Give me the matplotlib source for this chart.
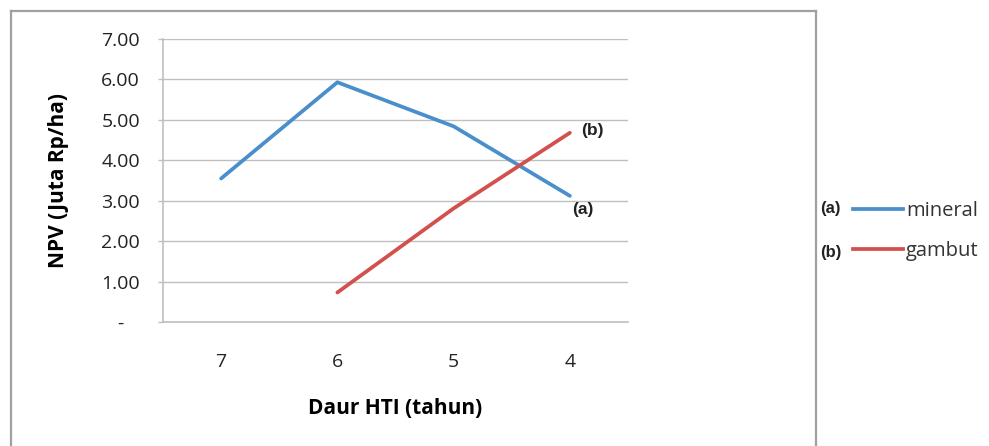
import matplotlib
matplotlib.use("Agg")
import matplotlib.pyplot as plt
from matplotlib.lines import Line2D

categories = ["7", "6", "5", "4"]
mineral = [3.55, 5.93, 4.84, 3.12]
gambut = [None, 0.73, 2.81, 4.68]
yticks = [0, 1, 2, 3, 4, 5, 6, 7]
ytick_labels = ["-   ", "1.00", "2.00", "3.00", "4.00", "5.00", "6.00", "7.00"]

BLUE = "#4A8FCB"
RED = "#D2504D"
GRID = "#BFBFBF"
plt.rcParams["font.family"] = ["Open Sans", "DejaVu Sans"]
ANN = dict(family=["Liberation Sans", "DejaVu Sans"], fontweight="bold", color="#222222")

W, H = 989, 446
fig = plt.figure(figsize=(W / 100, H / 100), dpi=100)
ax = fig.add_axes([163 / W, 1 - 322 / H, (628 - 163) / W, (322 - 39) / H])

x = list(range(len(categories)))
gx = [i for i, v in zip(x, gambut) if v is not None]
gy = [v for v in gambut if v is not None]
ax.plot(x, mineral, color=BLUE, lw=2.7, solid_capstyle="round", label="mineral")
ax.plot(gx, gy, color=RED, lw=2.7, solid_capstyle="round", label="gambut")

ax.set_xlim(-0.5, len(categories) - 0.5)
ax.set_ylim(0, 7)
ax.set_xticks(x)
ax.set_xticklabels(categories, fontsize=14, color="#222222")
ax.set_yticks(yticks)
ax.set_yticklabels(ytick_labels, fontsize=14, color="#222222")
ax.tick_params(axis="x", length=0, pad=22)
ax.tick_params(axis="y", length=3.6, width=1, color=GRID, pad=13)
ax.yaxis.grid(True, color=GRID, lw=1)
ax.axhline(0, color=GRID, lw=1.2, clip_on=False, zorder=0)
ax.set_axisbelow(True)
for s in ["top", "right", "bottom"]:
    ax.spines[s].set_visible(False)
ax.spines["left"].set_color(GRID)
ax.spines["left"].set_linewidth(1.2)

ax.set_ylabel("NPV (Juta Rp/ha)", fontsize=15, fontweight="bold", labelpad=23)
ax.set_xlabel("Daur HTI (tahun)", fontsize=15, fontweight="bold", labelpad=20)

ax.annotate("(a)", (x[-1], mineral[-1]), xytext=(9.5, -10), textcoords="offset points",
            ha="center", va="center", fontsize=12.5, **ANN)
ax.annotate("(b)", (gx[-1], gy[-1]), xytext=(16, 2), textcoords="offset points",
            ha="center", va="center", fontsize=12.5, **ANN)

leg = fig.legend(handles=[Line2D([], [], color=BLUE, lw=2.7), Line2D([], [], color=RED, lw=2.7)],
                 labels=["mineral", "gambut"], loc="center left",
                 bbox_to_anchor=(853 / W, 1 - 231 / H), frameon=False, fontsize=14.5,
                 handlelength=2.5, handletextpad=0.12, labelspacing=1.0, borderaxespad=0,
                 borderpad=0)
for t in leg.get_texts():
    t.set_color("#333333")
fig.text(820 / W, 1 - 209 / H, "(a)", fontsize=12, va="center", ha="left", **ANN)
fig.text(820 / W, 1 - 252 / H, "(b)", fontsize=12, va="center", ha="left", **ANN)

border = dict(color="#A0A0A0", lw=1.6, transform=fig.transFigure)
fig.add_artist(Line2D([11 / W, 11 / W], [0, 1 - 11 / H], **border))
fig.add_artist(Line2D([11 / W, 816 / W], [1 - 11 / H, 1 - 11 / H], **border))
fig.add_artist(Line2D([816 / W, 816 / W], [0, 1 - 11 / H], **border))

fig.savefig("out.png", dpi=100)
